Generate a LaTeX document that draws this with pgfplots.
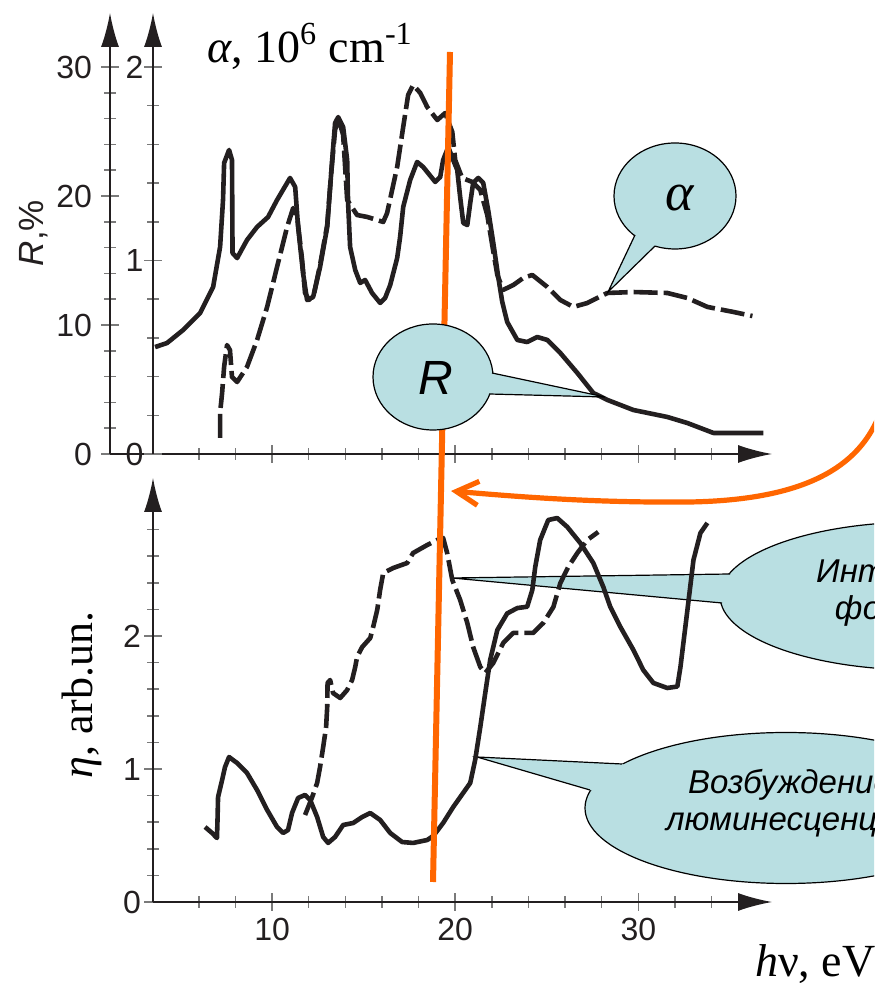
\documentclass[border=0pt]{standalone}
\usepackage{fontspec}
\setmainfont{Liberation Serif}
\setsansfont{Liberation Sans}
\usepackage{pgfplots}
\pgfplotsset{compat=1.18}
\usetikzlibrary{arrows.meta}
\definecolor{ink}{HTML}{231F20}
\definecolor{tickc}{HTML}{7A7A7A}
\definecolor{bub}{HTML}{B9DFE2}
\definecolor{org}{HTML}{FF6600}
\pgfplotsset{
  base/.style={
    scale only axis, enlargelimits=false, anchor=south west,
    axis line style={ink, line width=0.75pt},
    tick align=inside,
    major tick length=9pt, minor tick length=6pt,
    every tick/.style={tickc, line width=0.75pt},
    ticklabel style={font=\sffamily\fontsize{16}{16}\selectfont, text=ink},
    /pgf/number format/assume math mode=true,
    xmax=37.3,
  },
  arr/.style={
    every outer x axis line/.append style={-{Latex[length=17pt,width=9pt]}},
    every outer y axis line/.append style={-{Latex[length=17pt,width=9pt]}},
    every inner x axis line/.append style={-{Latex[length=17pt,width=9pt]}},
    every inner y axis line/.append style={-{Latex[length=17pt,width=9pt]}},
    x axis line style={-{Latex[length=17pt,width=9pt]}},
    y axis line style={-{Latex[length=17pt,width=9pt]}},
  },
  crv/.style={ink, line width=2.3pt, line join=round, line cap=butt},
  dcrv/.style={ink, line width=2.3pt, line join=round, dash pattern=on 12pt off 3pt},
}
\begin{document}
\begin{tikzpicture}
\useasboundingbox (0,0) rectangle (437pt,491.5pt);
\clip (0,0) rectangle (437pt,491.5pt);

% lower callouts (beneath curves)
\begin{scope}[x=0.5pt,y=-0.5pt,yshift=491.5pt]
  \fill[bub] (920,596) ellipse [x radius=200, y radius=74];
  \draw[black, line width=0.6pt] (920,596) ellipse [x radius=200, y radius=74];
  \fill[bub] (730,574) -- (452,578) -- (722,603) -- (745,600) -- (748,578) -- cycle;
  \draw[black, line width=0.6pt] (730,574) -- (452,578) -- (722,603);
  \node[align=center, text=black, font=\sffamily\itshape\fontsize{16.5}{18.5}\selectfont] at (944,593) {Интенсивность\\фотоэмиссии};

  \fill[bub] (786,808) ellipse [x radius=201, y radius=75.5];
  \draw[black, line width=0.6pt] (786,808) ellipse [x radius=201, y radius=75.5];
  \fill[bub] (622,764) -- (477,757) -- (590,790) -- (610,792) -- (635,770) -- cycle;
  \draw[black, line width=0.6pt] (622,764) -- (477,757) -- (590,790);
  \node[align=center, text=black, font=\sffamily\itshape\fontsize{16.5}{18.5}\selectfont] at (790,803) {Возбуждение\\люминесценции};
\end{scope}

% top panel: R axis
\begin{axis}[base, at={(55pt,264.5pt)}, width=331pt, height=220.5pt,
  xmin=1.148, ymin=0, ymax=34.19,
  axis lines=left, arr,
  xtick={10,20,30}, minor xtick={6,8,12,14,16,18,22,24,26,28,32,34},
  xticklabels={,,},
  ytick={0,10,20,30}, minor ytick={2,4,6,8,12,14,16,18,22,24,26,28},
  yticklabel style={xshift=-1pt},
]
\addplot[crv] coordinates {
(3.61,8.29) (4.26,8.60) (5.14,9.61) (6.07,10.93) (6.78,12.95) (7.16,16.05) (7.32,19.69)
(7.38,22.56) (7.65,23.57) (7.81,22.79) (7.84,15.58) (8.09,15.19) (8.63,16.59) (9.18,17.60)
(9.78,18.37) (10.27,19.69) (10.98,21.40) (11.26,20.70) (11.42,17.60) (11.69,14.03) (11.91,11.94)
(12.24,12.17) (12.62,14.50) (13.01,17.60) (13.28,22.79) (13.44,25.66) (13.61,26.12) (13.88,25.35)
(14.10,22.79) (14.15,19.46) (14.26,16.05) (14.54,14.26) (14.81,13.26) (15.08,13.49) (15.46,12.48)
(15.90,11.71) (16.17,12.09) (16.45,13.10) (16.83,15.19) (16.99,16.82) (17.16,19.15) (17.54,21.24)
(17.92,22.64) (18.25,22.25) (18.91,21.09) (19.18,21.47) (19.34,22.79) (19.62,23.80) (19.89,22.79)
(20.11,22.02) (20.27,19.92) (20.44,17.91) (20.66,17.75) (20.82,19.46) (20.98,21.01) (21.26,21.40)
(21.53,21.01) (21.80,18.91) (22.08,16.36) (22.35,13.72) (22.57,11.78) (22.84,10.23) (23.39,8.84)
(23.93,8.68) (24.48,9.07) (25.03,8.84) (25.74,7.83) (26.67,6.28) (27.54,4.73) (28.31,4.19)
(29.73,3.41) (31.58,2.87) (32.68,2.40) (34.10,1.63) (36.83,1.63)
};
\end{axis}

% top panel: alpha axis
\begin{axis}[base, at={(76.5pt,264.5pt)}, width=309.5pt, height=220.5pt,
  xmin=3.497, ymin=0, ymax=2.279,
  axis x line=none, axis y line=left, arr,
  xtick=\empty,
  ytick={0,1,2}, minor ytick={0.2,0.4,0.6,0.8,1.2,1.4,1.6,1.8},
  yticklabel style={xshift=3.3pt},
]
\addplot[dcrv] coordinates {
(7.16,0.083) (7.16,0.212) (7.27,0.315) (7.38,0.450) (7.54,0.563) (7.70,0.537) (7.81,0.398)
(8.09,0.372) (8.63,0.450) (9.18,0.589) (9.73,0.760) (10.27,0.966) (10.82,1.173) (11.15,1.271)
(11.37,1.225) (11.64,1.003) (11.80,0.832) (12.02,0.796) (12.30,0.832) (12.62,0.977) (13.01,1.183)
(13.22,1.442) (13.44,1.674) (13.61,1.736) (13.88,1.649) (14.10,1.313) (14.64,1.235) (15.19,1.225)
(15.74,1.209) (16.07,1.199) (16.28,1.245) (16.83,1.483) (17.16,1.690) (17.43,1.855) (17.70,1.907)
(18.09,1.866) (18.47,1.793) (19.02,1.726) (19.45,1.762) (19.84,1.664) (20.00,1.519) (20.38,1.426)
(20.93,1.406) (21.37,1.364) (21.75,1.235) (22.02,1.080) (22.30,0.925) (22.62,0.848) (23.17,0.873)
(23.72,0.910) (24.21,0.925) (25.03,0.863) (25.74,0.796) (26.45,0.760) (27.21,0.780) (28.31,0.832)
(29.73,0.837) (31.58,0.832) (32.68,0.806) (33.77,0.760) (35.19,0.734) (36.23,0.713)
};
\end{axis}

% bottom panel
\begin{axis}[base, at={(76.5pt,40.5pt)}, width=309.5pt, height=212pt,
  xmin=3.497, ymin=0, ymax=3.188,
  axis lines=left, arr,
  xtick={10,20,30}, minor xtick={6,8,12,14,16,18,22,24,26,28,32,34},
  ytick={0,1,2}, minor ytick={0.2,0.4,0.6,0.8,1.2,1.4,1.6,1.8,2.2,2.4,2.6,2.8},
  yticklabel style={xshift=2pt},
]
\addplot[crv] coordinates {
(6.34,0.564) (6.72,0.519) (6.99,0.481) (7.02,0.617) (7.05,0.789) (7.27,0.917) (7.43,1.015)
(7.65,1.090) (8.09,1.045) (8.63,0.970) (9.18,0.842) (9.73,0.692) (10.27,0.564) (10.60,0.519)
(10.87,0.541) (11.09,0.669) (11.42,0.782) (11.80,0.805) (12.08,0.767) (12.46,0.639) (12.79,0.489)
(13.06,0.444) (13.44,0.489) (13.88,0.579) (14.43,0.594) (14.92,0.639) (15.36,0.669) (15.90,0.617)
(16.45,0.519) (17.10,0.451) (17.70,0.444) (18.47,0.466) (18.80,0.496) (19.34,0.594) (19.89,0.714)
(20.82,0.895) (21.09,1.068) (21.37,1.316) (21.64,1.571) (21.91,1.820) (22.30,2.045) (22.84,2.170)
(23.39,2.210) (23.93,2.220) (24.21,2.346) (24.37,2.519) (24.64,2.722) (25.08,2.872) (25.57,2.887)
(26.12,2.820) (26.83,2.699) (27.54,2.549) (28.09,2.368) (28.47,2.218) (29.02,2.068) (29.73,1.895)
(30.27,1.744) (30.82,1.647) (31.58,1.609) (32.13,1.620) (32.30,1.767) (32.68,2.195) (33.01,2.571)
(33.39,2.774) (33.77,2.850)
};
\addplot[dcrv] coordinates {
(11.80,0.654) (12.19,0.789) (12.46,0.895) (12.62,1.015) (12.79,1.165) (12.95,1.316) (13.01,1.466)
(13.03,1.647) (13.17,1.669) (13.33,1.571) (13.72,1.534) (14.10,1.594) (14.37,1.669) (14.54,1.767)
(14.64,1.842) (14.92,1.917) (15.36,1.985) (15.52,2.068) (15.74,2.195) (15.90,2.346) (16.07,2.474)
(16.61,2.511) (17.38,2.549) (17.70,2.624) (18.47,2.684) (19.02,2.722) (19.34,2.737) (19.56,2.624)
(19.84,2.421) (20.27,2.271) (20.66,2.098) (20.98,1.917) (21.37,1.767) (21.64,1.722) (22.08,1.797)
(22.62,1.947) (23.17,2.023) (24.26,2.023) (24.81,2.098) (25.36,2.218) (25.74,2.398) (26.17,2.519)
(26.67,2.624) (27.21,2.722) (27.81,2.782)
};
\end{axis}

\begin{scope}[x=0.5pt,y=-0.5pt,yshift=491.5pt]
  % orange line and arrow
  \draw[org, line width=3pt] (450,52) -- (433,882);
  \draw[org, line width=2.6pt, -{Straight Barb[length=11pt,width=12pt]}]
    (884,400) .. controls (866,470) and (800,500) .. (690,502)
    .. controls (590,503) and (510,496) .. (451,491);
  % R callout
  \fill[bub] (433,377) ellipse [x radius=60, y radius=53];
  \draw[black, line width=0.6pt] (433,377) ellipse [x radius=60, y radius=53];
  \fill[bub] (492,373) -- (605,397) -- (489,394) -- (480,392) -- (482,375) -- cycle;
  \draw[black, line width=0.6pt] (492,373) -- (605,397) -- (489,394);
  \node[text=black, font=\sffamily\itshape\fontsize{24}{24}\selectfont] at (436,378) {R};
  % alpha callout
  \fill[bub] (675,196) ellipse [x radius=61, y radius=53];
  \draw[black, line width=0.6pt] (675,196) ellipse [x radius=61, y radius=53];
  \fill[bub] (635,235) -- (608,292) -- (655,246) -- (660,238) -- (642,228) -- cycle;
  \draw[black, line width=0.6pt] (635,235) -- (608,292) -- (655,246);
  \node[text=black, font=\itshape\fontsize{27}{27}\selectfont] at (680,198) {α};
  % axis titles
  \node[anchor=base west, text=black, font=\fontsize{23}{23}\selectfont] at (200,63)
    {\textit{α}, 10\textsuperscript{6} cm\textsuperscript{-1}};
  \node[rotate=90, anchor=base, text=black, font=\fontsize{22}{22}\selectfont] at (92,695)
    {\textit{η}, arb.un.};
  \node[anchor=base west, text=black, font=\fontsize{23}{23}\selectfont] at (748,977)
    {\textit{h}ν, eV};
  \node[rotate=90, anchor=base, text=ink, font=\sffamily\fontsize{17.5}{17.5}\selectfont] at (43,233)
    {\textit{R},\%};
\end{scope}
\end{tikzpicture}
\end{document}
